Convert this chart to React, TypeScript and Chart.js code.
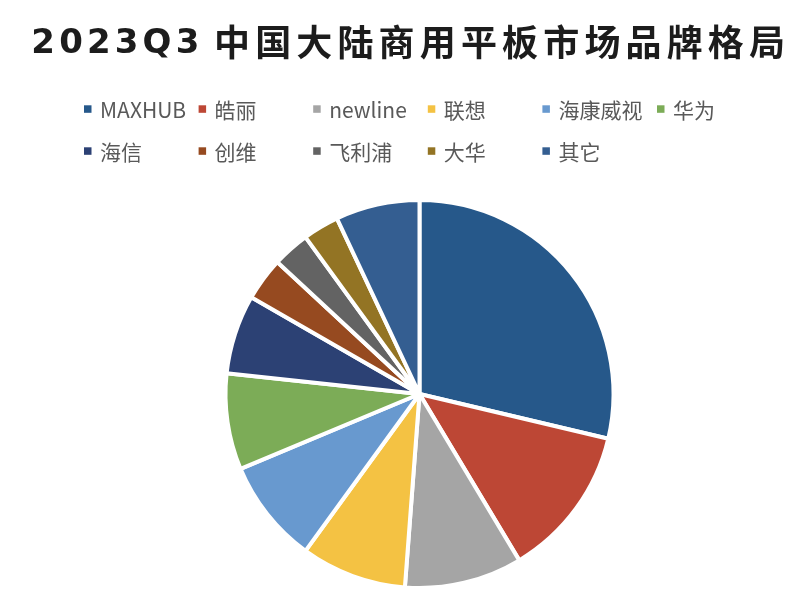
import React, { useEffect, useRef } from "react";
import { Chart, registerables } from "chart.js";

Chart.register(...registerables);

const TITLE_LATIN = "2023Q3";
const TITLE_CJK = "中国大陆商用平板市场品牌格局";

const brands = ["MAXHUB", "皓丽", "newline", "联想", "海康威视", "华为", "海信", "创维", "飞利浦", "大华", "其它"];
const shares = [28.7, 12.7, 9.8, 8.8, 8.7, 8.0, 6.6, 3.6, 3.1, 3.0, 7.0];
const colors = [
  "#26588A",
  "#BD4735",
  "#A5A5A5",
  "#F4C243",
  "#6899CF",
  "#7CAC57",
  "#2C4174",
  "#964A20",
  "#636363",
  "#937424",
  "#345E91",
];

const legendTitlePlugin = {
  id: "legendTitle",
  afterDraw(chart: any) {
    const ctx = chart.ctx as CanvasRenderingContext2D;
    ctx.save();
    // Title part 1
    ctx.fillStyle = "#1c1c1c";
    ctx.textAlign = "left";
    ctx.textBaseline = "alphabetic";
    (ctx as any).letterSpacing = "0px";
    ctx.font = "bold 34px 'DejaVu Sans', sans-serif";
    let m = ctx.measureText(TITLE_LATIN);
    let ink0 = m.actualBoundingBoxLeft + m.actualBoundingBoxRight;
    let ls = (163.4 - ink0) / (TITLE_LATIN.length - 1);
    (ctx as any).letterSpacing = ls + "px";
    ctx.fillText(TITLE_LATIN, 25.3 + m.actualBoundingBoxLeft, 45.3);
    // Title part 2
    (ctx as any).letterSpacing = "0px";
    ctx.font = "bold 36px 'Noto Sans CJK SC', sans-serif";
    m = ctx.measureText(TITLE_CJK);
    ink0 = m.actualBoundingBoxLeft + m.actualBoundingBoxRight;
    const chars = Array.from(TITLE_CJK).length;
    ls = (566 - ink0) / (chars - 1);
    const yMid = 33.5 + (m.actualBoundingBoxAscent - m.actualBoundingBoxDescent) / 2;
    (ctx as any).letterSpacing = ls + "px";
    ctx.fillText(TITLE_CJK, 209 + m.actualBoundingBoxLeft, yMid);
    (ctx as any).letterSpacing = "0px";

    // Legend grid
    const labels = chart.data.labels as string[];
    const bg = chart.data.datasets[0].backgroundColor as string[];
    const perRow = 6;
    const x0 = 76;
    const step = 114.6;
    const rowY = [100.8, 142.8];
    ctx.font = "21px 'Noto Sans CJK SC', sans-serif";
    ctx.textBaseline = "middle";
    labels.forEach((lab, i) => {
      const col = i % perRow;
      const row = Math.floor(i / perRow);
      const x = x0 + col * step;
      const y = rowY[row];
      ctx.fillStyle = bg[i];
      ctx.fillRect(x, y - 3.5, 7.5, 7.5);
      ctx.fillStyle = "#595959";
      ctx.fillText(lab, x + 16, y + 1);
    });
    ctx.restore();
  },
};

export default function App() {
  const ref = useRef<HTMLCanvasElement | null>(null);
  useEffect(() => {
    if (!ref.current) return;
    const chart = new Chart(ref.current, {
      type: "pie",
      data: {
        labels: brands,
        datasets: [
          {
            data: shares,
            backgroundColor: colors,
            borderColor: "#ffffff",
            borderWidth: 4,
            hoverOffset: 0,
          },
        ],
      },
      options: {
        animation: false,
        responsive: false,
        devicePixelRatio: 1,
        events: [],
        layout: { padding: { top: 190, bottom: 10, left: 39, right: 0 } },
        plugins: {
          legend: { display: false },
          title: { display: false },
          tooltip: { enabled: false },
        },
      },
      plugins: [legendTitlePlugin],
    });
    return () => chart.destroy();
  }, []);
  return (
    <div style={{ width: 784, height: 592 }}>
      <canvas ref={ref} width={784} height={592} style={{ display: "block" }} />
    </div>
  );
}
